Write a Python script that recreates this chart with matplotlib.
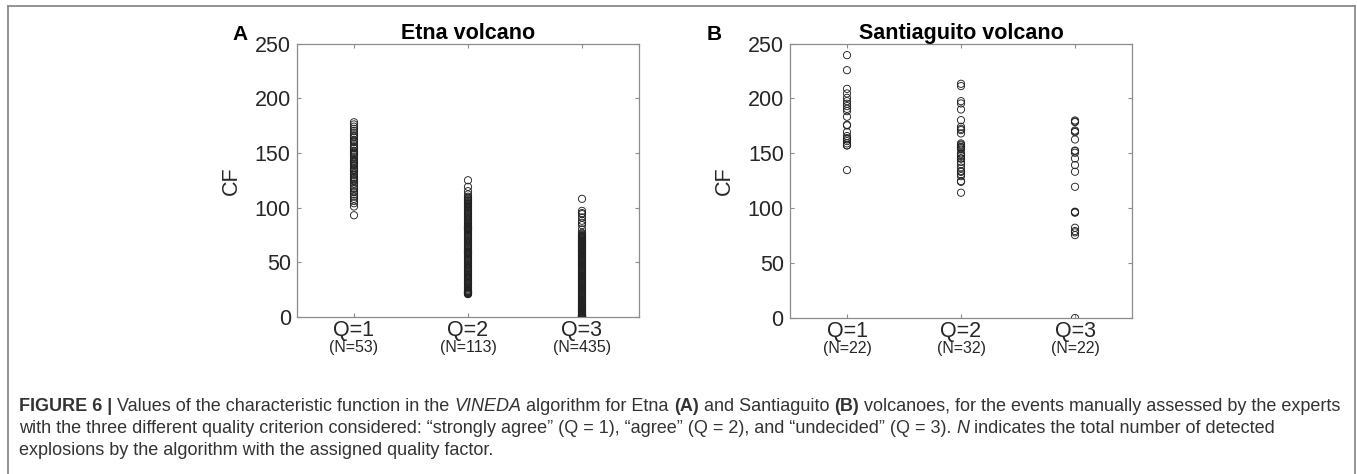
import numpy as np
import matplotlib
matplotlib.use("Agg")
import matplotlib.pyplot as plt
from matplotlib.lines import Line2D

plt.rcParams['font.family'] = ['Liberation Sans', 'DejaVu Sans']

# ---- data ----
q_pos = [1, 2, 3]
q_labels = ["Q=1", "Q=2", "Q=3"]
etna_n = ["(N=53)", "(N=113)", "(N=435)"]
sant_n = ["(N=22)", "(N=32)", "(N=22)"]

etna_q1 = [93, 101, 104, 106, 108, 110, 112, 114, 115, 117, 118, 120, 122, 124,
           125, 126, 127, 128, 130, 131, 133, 134, 135, 136, 138, 139, 140, 141,
           142, 143, 144, 146, 148, 149, 150, 151, 152, 154, 155, 156, 158, 160,
           161, 162, 164, 165, 166, 168, 170, 172, 174, 176, 178]

etna_q2 = [125, 119, 115, 112, 110, 109, 108, 107, 106, 105, 104, 103.5, 103,
           102, 101, 100.5, 100, 99, 98, 97, 96, 95, 94, 93, 92, 91, 90, 89, 88,
           87, 86, 85, 84, 83, 82.5, 82, 81.5, 81, 80.5, 80, 79.5, 79, 78, 77, 76,
           75, 74, 73, 72, 71, 70, 69, 68, 67, 66, 65, 64, 63, 62, 61, 60, 59.5,
           59, 58.5, 58, 57.5, 57, 56, 55, 54, 53, 52, 51, 50, 49, 48, 47, 46, 45,
           44, 43, 42, 41, 40, 39, 38, 37, 36, 35, 34, 33, 32, 31, 30, 29, 28, 27,
           26, 25, 24, 23.5, 23, 22.5, 22, 21.5, 21, 21, 22, 24, 27, 31, 36, 45]

etna_q3 = [108, 97, 95, 94, 91, 88, 86, 84, 80, 77, 76, 75,
           74, 73.5, 73, 72.5, 72, 71.5, 71, 70, 69, 68.5, 68, 67, 66, 65.5, 65,
           64, 63, 62, 61.5, 61, 60, 59, 58, 57, 56.5, 56, 55, 54, 53, 52, 51, 50,
           49, 48, 47, 46, 45, 44, 43, 42, 41, 40, 39, 38, 37, 36, 35, 34, 33, 32,
           31, 30, 29, 28, 27, 26, 25, 24, 23, 22, 21, 20, 19, 18, 17, 16, 15, 14,
           13, 12, 11, 10, 9, 8, 7, 6, 5, 4.5, 4, 3.5, 3, 2.5, 2, 1.5, 1, 0.8,
           0.5, 0.3, 0, 0, 0,
           69.5, 66.5, 63.5, 60.5, 58.5, 55.5, 53.5, 51.5, 49.5, 47.5, 45.5, 43.5,
           41.5, 39.5, 37.5, 35.5, 33.5, 31.5, 29.5, 27.5, 25.5, 23.5, 21.5, 19.5,
           17.5, 15.5, 13.5, 11.5, 9.5, 8.5, 7.5, 6.5, 5.5, 0.2, 0.1, 0.6]

sant_q1 = [239.4, 225.7, 208.7, 204.5, 200.5, 197.5, 195.1, 193, 190.5, 188.4,
           183.3, 176, 175.4, 169.3, 165.7, 163.8, 162.6, 161.1, 159, 157.2,
           157.2, 134.7]

sant_q2 = [213.3, 211.2, 197.5, 195.4, 189.9, 180.2, 174.2, 172.3, 171.1, 168.1,
           159, 158, 157.2, 155.9, 155.5, 154.7, 153.5, 149, 147.5, 145.1, 142.1,
           140, 137, 133.8, 133, 130.8, 129.2, 124.7, 124, 114.1, 145.5, 150]

sant_q3 = [179.9, 178.4, 170.8, 169.3, 162.6, 152, 150.5, 145.3, 139.3, 133.2,
           119.5, 96.8, 95.9, 96.5, 82.2, 79.2, 75.5, 78, 152.5, 170, 179, 0]

# ---- figure ----
fig = plt.figure(figsize=(13.57, 4.74), dpi=100)

spine_col = '#8c8c8c'
tick_col = '#262626'
lab_size = 15.5


def panel(rect, groups, n_labels, title):
    ax = fig.add_axes(rect)
    for q, vals in zip(q_pos, groups):
        ax.scatter(np.full(len(vals), q), vals, s=27, facecolors='none',
                   edgecolors='#222222', linewidths=0.65, zorder=3)
    ax.set_xlim(0.5, 3.5)
    ax.set_ylim(0, 250)
    ax.set_yticks([0, 50, 100, 150, 200, 250])
    ax.set_xticks(q_pos)
    ax.set_xticklabels(q_labels)
    for sp in ax.spines.values():
        sp.set_color(spine_col)
        sp.set_linewidth(0.9)
    ax.tick_params(direction='in', length=3, width=0.8, color=spine_col,
                   top=True, right=True, labelsize=lab_size, labelcolor=tick_col)
    ax.tick_params(axis='y', pad=4.5)
    ax.tick_params(axis='x', pad=2)
    for q, lab in zip(q_pos, n_labels):
        ax.annotate(lab, xy=(q, 0), xycoords=('data', 'axes fraction'),
                    xytext=(0, -16.5), textcoords='offset points',
                    ha='center', va='top', fontsize=11.5, color=tick_col)
    ax.set_ylabel("CF", fontsize=lab_size, color=tick_col)
    ax.yaxis.set_label_coords(-0.16, 0.5)
    ax.set_title(title, fontsize=15.5, fontweight='bold', pad=3)
    return ax


ax_a = panel([297 / 1357, 1 - 317 / 474, 342 / 1357, 273.5 / 474],
             [etna_q1, etna_q2, etna_q3], etna_n, "Etna volcano")
ax_b = panel([790 / 1357, 1 - 318 / 474, 342 / 1357, 274.5 / 474],
             [sant_q1, sant_q2, sant_q3], sant_n, "Santiaguito volcano")

fig.text(232 / 1357, 1 - 40.5 / 474, "A", fontsize=15, fontweight='bold',
         va='baseline', ha='left')
fig.text(707 / 1357, 1 - 39.5 / 474, "B", fontsize=15, fontweight='bold',
         va='baseline', ha='left')

# ---- frame around figure + caption ----
fr = '#8a8a8a'
fig.add_artist(Line2D([8 / 1357, 8 / 1357], [0, 1 - 6 / 474], color=fr, lw=1.3,
                      transform=fig.transFigure))
fig.add_artist(Line2D([8 / 1357, 1355 / 1357], [1 - 6 / 474, 1 - 6 / 474],
                      color=fr, lw=1.3, transform=fig.transFigure))
fig.add_artist(Line2D([1355 / 1357, 1355 / 1357], [0, 1 - 6 / 474], color=fr,
                      lw=1.3, transform=fig.transFigure))

# ---- caption ----
cap = fig.add_axes([0, 0, 1, 1])
cap.axis('off')
cap_size = 13.0
cap_col = '#333333'
sp = 3.6  # space width in points

lines = [
    [("FIGURE 6 |", 'bold', 'normal', 0),
     ("Values of the characteristic function in the", 'normal', 'normal', sp),
     ("VINEDA", 'normal', 'italic', sp),
     ("algorithm for Etna", 'normal', 'normal', sp),
     ("(A)", 'bold', 'normal', sp),
     ("and Santiaguito", 'normal', 'normal', sp),
     ("(B)", 'bold', 'normal', sp),
     ("volcanoes, for the events manually assessed by the experts", 'normal', 'normal', sp)],
    [("with the three different quality criterion considered: \u201cstrongly agree\u201d "
      "(Q = 1), \u201cagree\u201d (Q = 2), and \u201cundecided\u201d (Q = 3).", 'normal', 'normal', 0),
     ("N", 'normal', 'italic', sp),
     ("indicates the total number of detected", 'normal', 'normal', sp)],
    [("explosions by the algorithm with the assigned quality factor.", 'normal', 'normal', 0)],
]
line_y = [1 - 415 / 474, 1 - 437 / 474, 1 - 459 / 474]

for parts, y in zip(lines, line_y):
    prev = None
    for txt, wt, st, gap in parts:
        if prev is None:
            prev = cap.text(19 / 1357, y, txt, transform=fig.transFigure,
                            fontsize=cap_size, fontweight=wt, fontstyle=st,
                            color=cap_col, ha='left', va='bottom')
        else:
            prev = cap.annotate(txt, xy=(1, 0), xycoords=prev,
                                xytext=(gap, 0), textcoords='offset points',
                                fontsize=cap_size, fontweight=wt, fontstyle=st,
                                color=cap_col, ha='left', va='bottom')

fig.savefig("out.png", dpi=100)
